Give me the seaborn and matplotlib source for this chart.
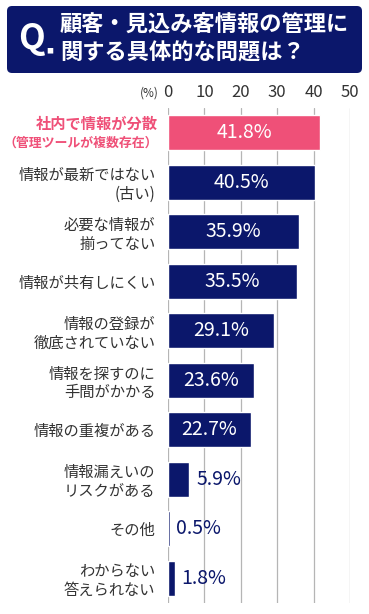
import matplotlib
matplotlib.use("Agg")
import matplotlib.pyplot as plt
from matplotlib.patches import FancyBboxPatch
import matplotlib.transforms as mtransforms
import seaborn as sns

# data
categories = [
    "社内で情報が分散\n（管理ツールが複数存在）",
    "情報が最新ではない\n(古い)",
    "必要な情報が\n揃ってない",
    "情報が共有しにくい",
    "情報の登録が\n徹底されていない",
    "情報を探すのに\n手間がかかる",
    "情報の重複がある",
    "情報漏えいの\nリスクがある",
    "その他",
    "わからない\n答えられない",
]
values = [41.8, 40.5, 35.9, 35.5, 29.1, 23.6, 22.7, 5.9, 0.5, 1.8]
xticks = [0, 10, 20, 30, 40, 50]

navy = "#0b176b"
pink = "#ef5078"
grey_text = "#333333"
colors = [pink] + [navy] * (len(values) - 1)

sns.set_style("white")
plt.rcParams['font.family'] = ['Noto Sans CJK JP', 'DejaVu Sans']

fig = plt.figure(figsize=(3.69, 6.14), dpi=100)
ax = fig.add_axes([168 / 369, 1 - 603 / 614, 182 / 369, 495 / 614])

sns.barplot(x=values, y=categories, hue=categories, palette=colors,
            legend=False, width=0.7, saturation=1, ax=ax, zorder=3)

ax.set_xlim(0, 50)
ax.set_ylim(9.5, -0.5)
ax.set_xticks(xticks)
ax.xaxis.tick_top()
ax.tick_params(axis='x', length=0, pad=5, labelsize=12, labelcolor=grey_text)
ax.tick_params(axis='y', length=0, pad=9)
for v in xticks:
    ax.axvline(v, color="#b5b5b5", lw=0.9, zorder=1)
for s in ax.spines.values():
    s.set_visible(False)
ax.set_xlabel("")
ax.set_ylabel("")

# category labels
ax.set_yticks(range(len(categories)))
ax.set_yticklabels([""] + categories[1:], fontsize=11, color=grey_text,
                   linespacing=1.15)
trans = mtransforms.blended_transform_factory(ax.transAxes, ax.transData)
first, second = categories[0].split("\n")
ax.text(-0.055, -0.19, first, transform=trans, ha="right", va="center",
        fontsize=11, color=pink, fontweight="bold")
ax.text(-0.055, 0.21, second, transform=trans, ha="right", va="center",
        fontsize=9.3, color=pink, fontweight="bold")

# value labels
for i, v in enumerate(values):
    if v > 15:
        ax.text(v / 2, i, f"{v}%", ha="center", va="center", color="white",
                fontsize=14, zorder=4)
    else:
        ax.text(v + 1.8, i, f"{v}%", ha="left", va="center", color=navy,
                fontsize=14, zorder=4)

fig.text(149 / 369, 1 - 93 / 614, "(%)", fontsize=8.5, color=grey_text,
         ha="center", va="center")

# title box
box = FancyBboxPatch((0.07, 6.14 - 0.73), 3.55, 0.67,
                     boxstyle="round,pad=0,rounding_size=0.05",
                     transform=fig.dpi_scale_trans, facecolor=navy,
                     edgecolor="none")
fig.patches.append(box)
fig.text(31 / 369, 1 - 38 / 614, "Q", fontsize=25, fontweight="bold",
         color="white", ha="center", va="center")
fig.text(50 / 369, 1 - 51 / 614, "■", fontsize=5, color="white",
         ha="center", va="center")
fig.text(60 / 369, 1 - 25 / 614, "顧客・見込み客情報の管理に", fontsize=16,
         fontweight="bold", color="white", ha="left", va="center")
fig.text(60 / 369, 1 - 53 / 614, "関する具体的な問題は？", fontsize=16,
         fontweight="bold", color="white", ha="left", va="center")

fig.savefig("out.png", dpi=100, facecolor="white")
